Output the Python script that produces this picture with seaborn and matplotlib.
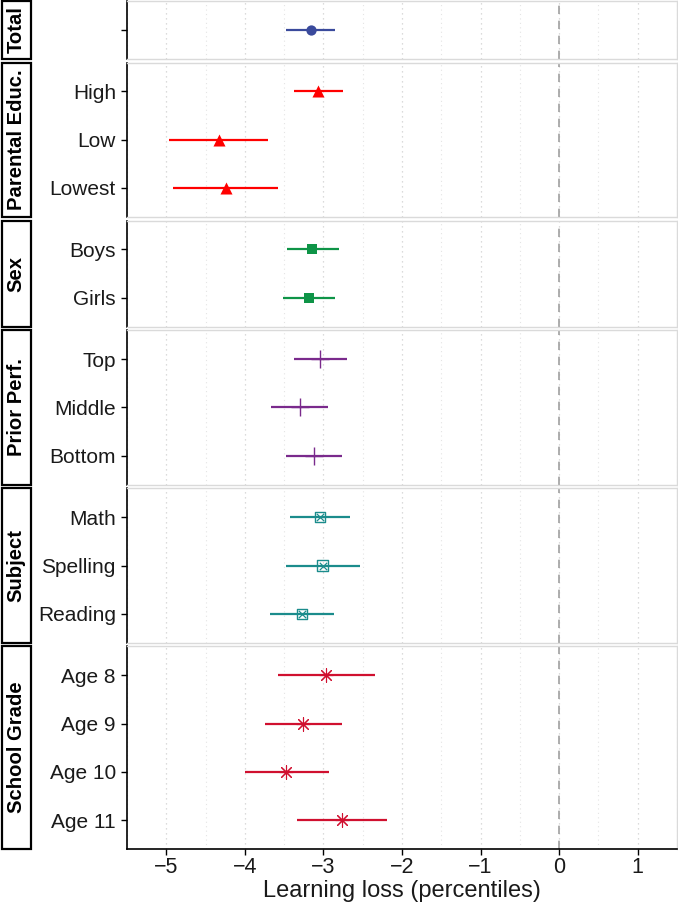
import numpy as np
import pandas as pd
import matplotlib
matplotlib.use("Agg")
import matplotlib.pyplot as plt
from matplotlib.patches import Rectangle
import seaborn as sns

# ---------------- data ----------------
groups = ["Total", "Parental Educ.", "Sex", "Prior Perf.", "Subject", "School Grade"]

total_cats = [""]
total_est = [-3.16]
total_lo = [-3.47]
total_hi = [-2.85]

educ_cats = ["High", "Low", "Lowest"]
educ_est = [-3.07, -4.33, -4.24]
educ_lo = [-3.38, -4.97, -4.91]
educ_hi = [-2.75, -3.70, -3.58]

sex_cats = ["Boys", "Girls"]
sex_est = [-3.14, -3.18]
sex_lo = [-3.46, -3.52]
sex_hi = [-2.80, -2.85]

prior_cats = ["Top", "Middle", "Bottom"]
prior_est = [-3.04, -3.30, -3.12]
prior_lo = [-3.38, -3.67, -3.47]
prior_hi = [-2.70, -2.94, -2.77]

subject_cats = ["Math", "Spelling", "Reading"]
subject_est = [-3.04, -3.01, -3.27]
subject_lo = [-3.42, -3.48, -3.68]
subject_hi = [-2.66, -2.54, -2.86]

grade_cats = ["Age 8", "Age 9", "Age 10", "Age 11"]
grade_est = [-2.97, -3.26, -3.47, -2.76]
grade_lo = [-3.58, -3.75, -4.00, -3.33]
grade_hi = [-2.34, -2.76, -2.93, -2.19]

x_ticks = [-5, -4, -3, -2, -1, 0, 1]
x_label = "Learning loss (percentiles)"

# ---------------- styles ----------------
colors = ["#3A4A9C", "#FF0000", "#0E9447", "#7A2A8C", "#1B8C8C", "#D0102F"]

frames = []
for g, cats, est, lo, hi in [
    (groups[0], total_cats, total_est, total_lo, total_hi),
    (groups[1], educ_cats, educ_est, educ_lo, educ_hi),
    (groups[2], sex_cats, sex_est, sex_lo, sex_hi),
    (groups[3], prior_cats, prior_est, prior_lo, prior_hi),
    (groups[4], subject_cats, subject_est, subject_lo, subject_hi),
    (groups[5], grade_cats, grade_est, grade_lo, grade_hi),
]:
    frames.append(pd.DataFrame({"group": g, "cat": cats, "est": est, "lo": lo, "hi": hi,
                                "pos": np.arange(len(cats))}))
df = pd.concat(frames, ignore_index=True)

sns.set_theme(style="white")
plt.rcParams["font.family"] = ["Liberation Sans", "DejaVu Sans"]

W, H = 678, 909
fig = plt.figure(figsize=(W / 100, H / 100), dpi=100)
ns = [len(df[df.group == g]) for g in groups]
gs = fig.add_gridspec(len(groups), 1, height_ratios=[n + 0.2 for n in ns],
                      left=127 / W, right=677 / W, top=1 - 1 / H, bottom=1 - 849 / H,
                      hspace=0.026)

for i, g in enumerate(groups):
    ax = fig.add_subplot(gs[i])
    sub = df[df.group == g]
    c = colors[i]
    ax.hlines(sub["pos"], sub["lo"], sub["hi"], color=c, lw=1.6, zorder=3)
    if i == 0:
        sns.scatterplot(data=sub, x="est", y="pos", ax=ax, color=c, marker="o", s=55,
                        edgecolor=c, linewidth=0, zorder=4, legend=False)
    elif i == 1:
        sns.scatterplot(data=sub, x="est", y="pos", ax=ax, color=c, marker="^", s=75,
                        edgecolor=c, linewidth=0, zorder=4, legend=False)
    elif i == 2:
        sns.scatterplot(data=sub, x="est", y="pos", ax=ax, color=c, marker="s", s=50,
                        edgecolor=c, linewidth=0, zorder=4, legend=False)
    elif i == 3:
        sns.scatterplot(data=sub, x="est", y="pos", ax=ax, color=c, marker="+", s=150,
                        linewidth=1.0, zorder=4, legend=False)
    elif i == 4:
        sns.scatterplot(data=sub, x="est", y="pos", ax=ax, marker="s", s=55,
                        facecolor="none", edgecolor=c, linewidth=1.0, zorder=4, legend=False)
        sns.scatterplot(data=sub, x="est", y="pos", ax=ax, color=c, marker="x", s=28,
                        linewidth=0.9, zorder=5, legend=False)
    else:
        sns.scatterplot(data=sub, x="est", y="pos", ax=ax, color=c, marker=(8, 2, 0), s=95,
                        linewidth=0.8, zorder=4, legend=False)

    ax.axvline(0, color="#A0A0A0", lw=1.2, ls=(0, (5, 4)), zorder=2)

    n = len(sub)
    ax.set_ylim(n - 1 + 0.6, -0.6)
    ax.set_xlim(-5.5, 1.5)
    ax.set_yticks(sub["pos"])
    ax.set_yticklabels(sub["cat"], fontsize=15, color="#1A1A1A")
    ax.set_xticks(x_ticks)
    ax.set_xticks(np.arange(-5.5, 1.6, 0.5), minor=True)
    ax.grid(False)
    ax.grid(True, axis="x", which="major", color="#D0D0D0", lw=0.9, ls=(0, (1, 3)))
    ax.grid(True, axis="x", which="minor", color="#E4E4E4", lw=0.8, ls=(0, (1, 3)))
    ax.set_xlabel("")
    ax.set_ylabel("")
    for side in ["top", "right", "bottom"]:
        ax.spines[side].set_color("#DADADA")
        ax.spines[side].set_linewidth(1.0)
    ax.spines["left"].set_color("black")
    ax.spines["left"].set_linewidth(1.2)
    ax.tick_params(axis="y", which="major", left=True, length=4, width=1.0, color="black", pad=4)
    ax.tick_params(axis="x", which="minor", bottom=False)
    if i == len(groups) - 1:
        ax.spines["bottom"].set_color("black")
        ax.spines["bottom"].set_linewidth(1.2)
        ax.tick_params(axis="x", which="major", bottom=True, length=4, width=1.0,
                       color="black", labelsize=15.5, labelcolor="#1A1A1A", pad=2)
        ax.set_xlabel(x_label, fontsize=17, color="#1A1A1A", labelpad=1)
    else:
        ax.tick_params(axis="x", which="major", bottom=False, labelbottom=False)

    # strip label on the left
    pos = ax.get_position()
    sax = fig.add_axes([1.5 / W, pos.y0, 29.5 / W, pos.height])
    sax.set_xlim(0, 1)
    sax.set_ylim(0, 1)
    sax.axis("off")
    sax.add_patch(Rectangle((0, 0), 1, 1, transform=sax.transAxes, facecolor="white",
                            edgecolor="black", lw=1.6, clip_on=False))
    sax.text(0.5, 0.5, g, rotation=90, ha="center", va="center", fontsize=14.6,
             fontweight="bold", color="black", transform=sax.transAxes)

fig.savefig("out.png", dpi=100)
